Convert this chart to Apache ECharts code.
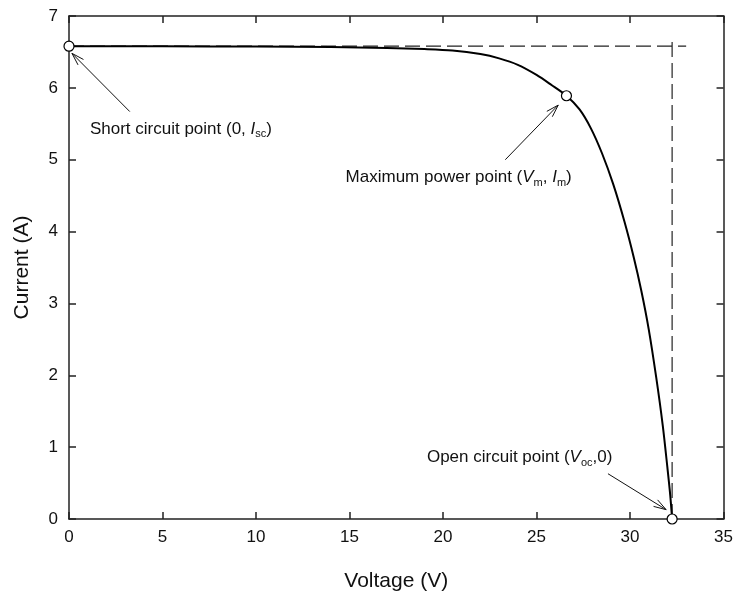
<!DOCTYPE html>
<html>
<head>
<meta charset="utf-8">
<script src="https://cdn.jsdelivr.net/npm/echarts@6/dist/echarts.min.js"></script>
<style>html,body{margin:0;padding:0;background:#fff}#c{width:736px;height:597px}</style>
</head>
<body>
<div id="c"></div>
<script>
// I-V curve values
var voltage = [0, 5, 10, 14, 17, 19, 20.5, 22, 23, 24, 25, 25.8, 26.6, 27.3, 27.9, 28.5, 29.1, 29.7, 30.2, 30.6, 31.0, 31.4, 31.75, 32.0, 32.15, 32.25];
var current = [6.58, 6.578, 6.574, 6.567, 6.555, 6.54, 6.52, 6.47, 6.41, 6.32, 6.18, 6.04, 5.89, 5.70, 5.44, 5.09, 4.66, 4.14, 3.64, 3.18, 2.64, 1.97, 1.30, 0.71, 0.33, 0];
// key points: short circuit, maximum power, open circuit
var keyV = [0, 26.6, 32.25];
var keyI = [6.58, 5.89, 0];
// dashed guide lines
var guideH = [[0, 6.58], [33, 6.58]];
var guideV = [[32.25, 0], [32.25, 6.67]];
// axis ticks
var xTicks = {min: 0, max: 35, interval: 5};
var yTicks = {min: 0, max: 7, interval: 1};
// annotations: arrow tail, arrow head, text anchor (data units)
var annTail = [[3.25, 5.67], [23.33, 5.0], [28.82, 0.63]];
var annHead = [[0.16, 6.48], [26.16, 5.76], [31.93, 0.13]];
var annText = [[1.12, 5.43], [14.79, 4.75], [19.14, 0.86]];
var annLabel = [
  'Short circuit point (0, {i|I}{s|sc})',
  'Maximum power point ({i|V}{s|m}, {i|I}{s|m})',
  'Open circuit point ({i|V}{s|oc},0)'
];

var FONT = "'Liberation Sans', Arial, sans-serif";
var curveData = voltage.map(function (v, k) { return [v, current[k]]; });
var keyData = keyV.map(function (v, k) { return [v, keyI[k]]; });
var annData = annTail.map(function (t, k) {
  return [t[0], t[1], annHead[k][0], annHead[k][1], annText[k][0], annText[k][1], k];
});

var axisLine = {show: true, onZero: false, lineStyle: {color: '#222', width: 1.5}};
var tick = {show: true, inside: true, length: 7, lineStyle: {color: '#222', width: 1.5}};

var chart = echarts.init(document.getElementById('c'), null, {renderer: 'canvas'});
chart.setOption({
  animation: false,
  backgroundColor: '#fff',
  grid: {left: 69, right: 10, top: 16, bottom: 77, containLabel: false},
  xAxis: [{
    type: 'value', min: xTicks.min, max: xTicks.max, interval: xTicks.interval,
    position: 'bottom',
    name: 'Voltage (V)', nameLocation: 'middle', nameGap: 52,
    nameTextStyle: {fontFamily: FONT, fontSize: 21, color: '#111'},
    axisLine: axisLine, axisTick: tick, splitLine: {show: false},
    axisLabel: {fontFamily: FONT, fontSize: 17, color: '#111', margin: 10}
  }, {
    type: 'value', min: xTicks.min, max: xTicks.max, interval: xTicks.interval,
    position: 'top', axisLine: axisLine, axisTick: tick, splitLine: {show: false},
    axisLabel: {show: false}
  }],
  yAxis: [{
    type: 'value', min: yTicks.min, max: yTicks.max, interval: yTicks.interval,
    position: 'left',
    name: 'Current (A)', nameLocation: 'middle', nameGap: 36,
    nameTextStyle: {fontFamily: FONT, fontSize: 21, color: '#111'},
    axisLine: axisLine, axisTick: tick, splitLine: {show: false},
    axisLabel: {fontFamily: FONT, fontSize: 17, color: '#111', margin: 11}
  }, {
    type: 'value', min: yTicks.min, max: yTicks.max, interval: yTicks.interval,
    position: 'right', axisLine: axisLine, axisTick: tick, splitLine: {show: false},
    axisLabel: {show: false}
  }],
  series: [{
    type: 'line', data: guideH, showSymbol: false, silent: true,
    lineStyle: {color: '#222', width: 1.2, type: [15, 6]}, z: 2
  }, {
    type: 'line', data: guideV, showSymbol: false, silent: true,
    lineStyle: {color: '#222', width: 1.2, type: [15, 6]}, z: 2
  }, {
    type: 'line', data: curveData, showSymbol: false, smooth: 0.3,
    lineStyle: {color: '#000', width: 2}, z: 3
  }, {
    type: 'scatter', data: keyData, symbol: 'circle', symbolSize: 10,
    itemStyle: {color: '#fff', opacity: 1, borderColor: '#000', borderWidth: 1.2}, z: 5
  }, {
    type: 'custom', data: annData, z: 6, clip: false,
    renderItem: function (params, api) {
      var t = api.coord([api.value(0), api.value(1)]);
      var h = api.coord([api.value(2), api.value(3)]);
      var p = api.coord([api.value(4), api.value(5)]);
      var k = api.value(6);
      var ang = Math.atan2(t[1] - h[1], t[0] - h[0]);
      var L = 13, a = 0.3;
      var p1 = [h[0] + L * Math.cos(ang + a), h[1] + L * Math.sin(ang + a)];
      var p2 = [h[0] + L * Math.cos(ang - a), h[1] + L * Math.sin(ang - a)];
      return {
        type: 'group',
        children: [{
          type: 'line', shape: {x1: t[0], y1: t[1], x2: h[0], y2: h[1]},
          style: {stroke: '#111', lineWidth: 1}
        }, {
          type: 'polyline', shape: {points: [p1, h, p2]},
          style: {stroke: '#111', lineWidth: 1, fill: null}
        }, {
          type: 'text', x: p[0], y: p[1],
          style: {
            text: annLabel[k], fontFamily: FONT, fontSize: 17, fill: '#111',
            align: 'left', verticalAlign: 'middle', lineHeight: 22,
            rich: {
              i: {fontStyle: 'italic', fontFamily: FONT, fontSize: 17, fill: '#111', lineHeight: 22},
              s: {fontFamily: FONT, fontSize: 11, fill: '#111', verticalAlign: 'bottom', lineHeight: 14}
            }
          }
        }]
      };
    }
  }]
});
</script>
</body>
</html>
